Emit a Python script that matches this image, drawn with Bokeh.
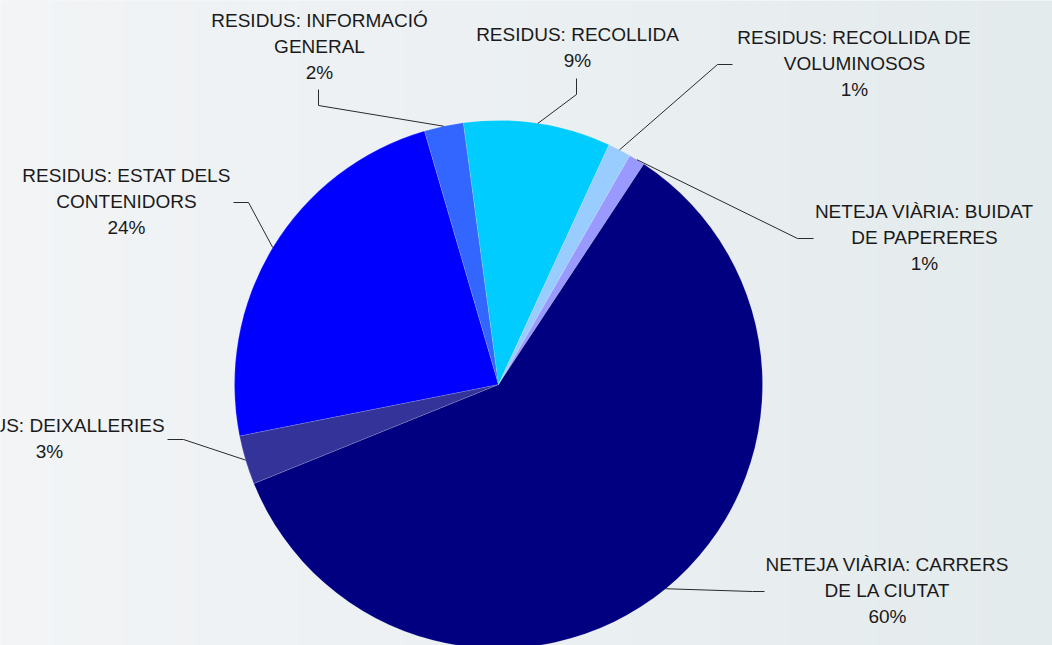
import math
from bokeh.plotting import figure
from bokeh.models import Range1d, ColumnDataSource
from bokeh.core.properties import value
from bokeh.embed import file_html
from bokeh.resources import INLINE

# ---- data ----
categories = [
    "NETEJA VIÀRIA: BUIDAT DE PAPERERES",
    "NETEJA VIÀRIA: CARRERS DE LA CIUTAT",
    "RESIDUS: DEIXALLERIES",
    "RESIDUS: ESTAT DELS CONTENIDORS",
    "RESIDUS: INFORMACIÓ GENERAL",
    "RESIDUS: RECOLLIDA",
    "RESIDUS: RECOLLIDA DE VOLUMINOSOS",
]
label_lines = [
    ["NETEJA VIÀRIA: BUIDAT", "DE PAPERERES"],
    ["NETEJA VIÀRIA: CARRERS", "DE LA CIUTAT"],
    ["RESIDUS: DEIXALLERIES"],
    ["RESIDUS: ESTAT DELS", "CONTENIDORS"],
    ["RESIDUS: INFORMACIÓ", "GENERAL"],
    ["RESIDUS: RECOLLIDA"],
    ["RESIDUS: RECOLLIDA DE", "VOLUMINOSOS"],
]
values = [10, 596, 30, 236, 24, 90, 14]
colors = ["#9999FF", "#000080", "#333399", "#0000FF", "#3366FF", "#00CCFF", "#99CCFF"]

# ---- layout (pixel coordinates of the reference) ----
W, H = 1052, 645
CX, CY, R = 498, 384, 264
START_DEG = 29.8  # clockwise from 12 o'clock

# label centre x, first-line centre y, leader elbow, leader end
label_pos = [
    (924, 211, (797, 238), (813, 238)),
    (887, 564, (752, 591), (764, 591)),
    (49, 425, (183, 439), (167, 439)),
    (126, 175, (248, 202), (233, 202)),
    (319, 20, (318, 105), (318, 89)),
    (577, 34, (576, 94), (576, 78)),
    (854, 37, (717, 64), (732, 64)),
]
LINE_H = 26
FONT = "Liberation Sans"
FSIZE = "19px"
TCOLOR = "#1a1a1a"


def Y(y):
    return H - y


p = figure(width=W, height=H, output_backend="svg", toolbar_location=None,
           x_range=Range1d(0, W), y_range=Range1d(0, H),
           min_border=0)
p.axis.visible = False
p.grid.visible = False
p.outline_line_color = None
p.background_fill_color = "#ECF0F2"
p.border_fill_color = "#ECF0F2"

# subtle horizontal background gradient
n = 60
c0 = (0xF2, 0xF4, 0xF6)
c1 = (0xE4, 0xEB, 0xED)
lefts, rights, cols = [], [], []
for i in range(n):
    t = i / (n - 1)
    c = tuple(int(round(a + (b - a) * t)) for a, b in zip(c0, c1))
    lefts.append(W * i / n)
    rights.append(W * (i + 1) / n + 1)
    cols.append("#%02x%02x%02x" % c)
p.quad(left=lefts, right=rights, bottom=0, top=H, fill_color=cols, line_color=None)

total = sum(values)
pcts = [int(v / total * 100 + 0.5) for v in values]

starts, ends, mids = [], [], []
acc = START_DEG
for v in values:
    span = v / total * 360.0
    a0, a1 = acc, acc + span
    starts.append(math.radians(90 - a0))
    ends.append(math.radians(90 - a1))
    mids.append((a0 + a1) / 2)
    acc = a1

src = ColumnDataSource(dict(start=starts, end=ends, color=colors, cat=categories))
p.wedge(x=CX, y=Y(CY), radius=R, radius_units="screen", start_angle="start", end_angle="end",
        direction="clock", fill_color="color", line_color="white", line_alpha=0.25,
        line_width=0.6, source=src)

# leader lines + labels
tx, ty, tt = [], [], []
for i, (lx, ly, elbow, end) in enumerate(label_pos):
    m = math.radians(mids[i])
    ex = CX + R * math.sin(m)
    ey = CY - R * math.cos(m)
    p.line(x=[ex, elbow[0], end[0]], y=[Y(ey), Y(elbow[1]), Y(end[1])],
           line_color="#2a2a2a", line_width=1)
    lines = label_lines[i] + [f"{pcts[i]}%"]
    for k, s in enumerate(lines):
        tx.append(lx)
        ty.append(Y(ly + k * LINE_H))
        tt.append(s)

p.text(x=tx, y=ty, text=tt, text_align="center", text_baseline="middle",
       text_font=value(FONT), text_font_size=FSIZE, text_color=TCOLOR)

open("out.html", "w").write(file_html(p, INLINE))
